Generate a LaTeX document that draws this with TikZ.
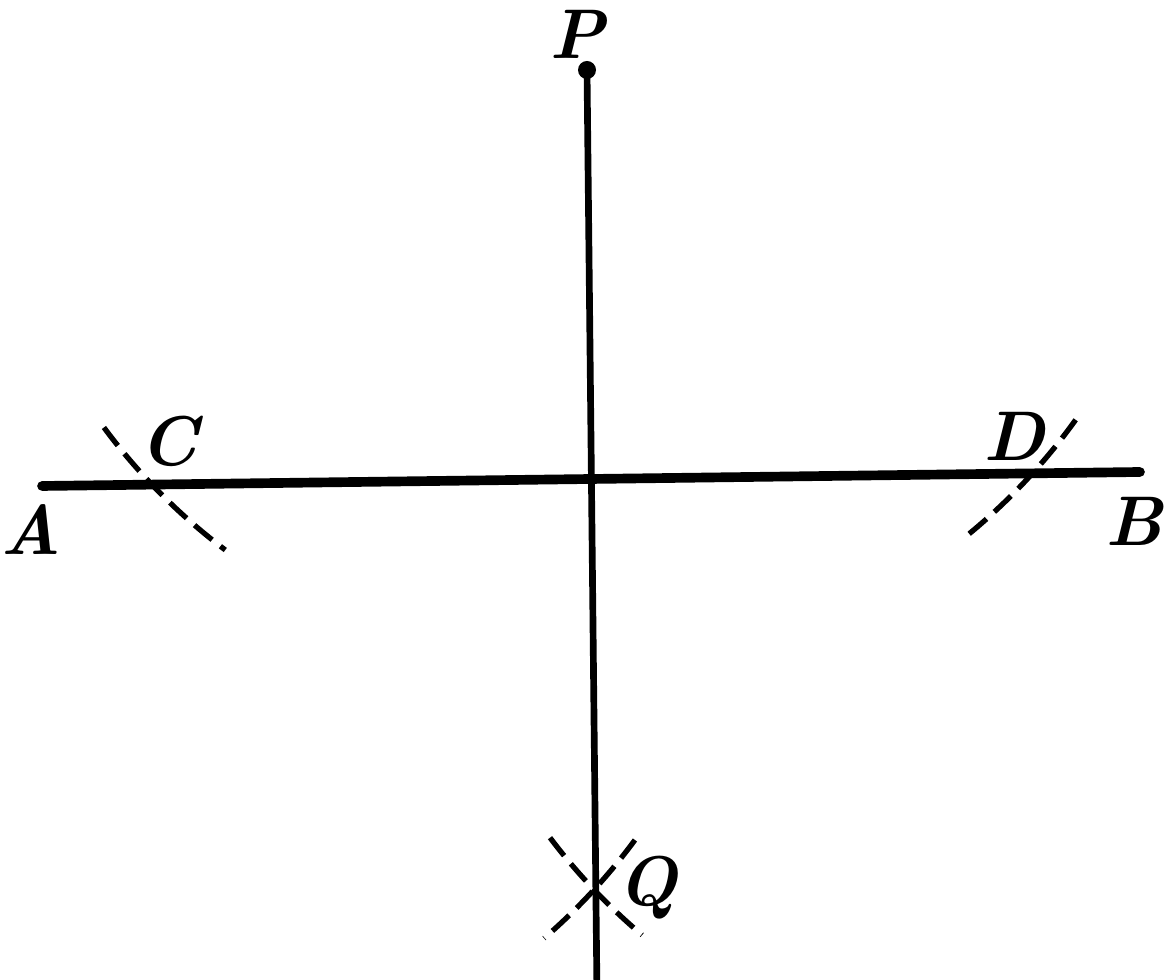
\documentclass[tikz,border=0pt]{standalone}
\begin{document}
\begin{tikzpicture}[
    lbl/.style={font=\fontsize{40}{40}\selectfont\bfseries\itshape, inner sep=0pt},
    arcmark/.style={line width=3pt, dash pattern=on 13pt off 6pt},
    mainline/.style={line width=5.5pt, line cap=round},
    perpline/.style={line width=3.8pt}]
          \useasboundingbox (0,0) rectangle (23.34,19.6);
          \coordinate (A) at (0.84,9.88);
          \coordinate (B) at (22.80,10.16);
          \coordinate (P) at (11.74,18.20);
          \coordinate (R) at (11.94,-0.3);
          \coordinate (C) at (2.96,9.98);
          \coordinate (D) at (20.60,10.08);
          \coordinate (Q) at (11.88,1.80);
          \draw[mainline](A) -- (B);
          \draw[perpline](P) -- (R);
          \fill (P) circle (0.18);
          \draw[arcmark](P) ++(216.5:12.02) arc[start angle=216.5, end angle=233, radius=12.02];
          \draw[arcmark](P) ++(-35.6:12.02) arc[start angle=-35.6, end angle=-51.4, radius=12.02];
          \draw[arcmark](D) ++(217:12.02) arc[start angle=217, end angle=229.8, radius=12.02];
          \draw[arcmark](C) ++(-36.4:12.1) arc[start angle=-36.4, end angle=-49.1, radius=12.1];
          \node[lbl] (lP) at (11.54,18.92) {P};
          \node[lbl] (lA) at (0.62,9.0) {A};
          \node[lbl] (lC) at (3.38,10.78) {C};
          \node[lbl] (lD) at (20.28,10.88) {D};
          \node[lbl] (lB) at (22.68,9.18) {B};
          \node[lbl] (lQ) at (12.96,1.84) {Q};
        \end{tikzpicture}
\end{document}
